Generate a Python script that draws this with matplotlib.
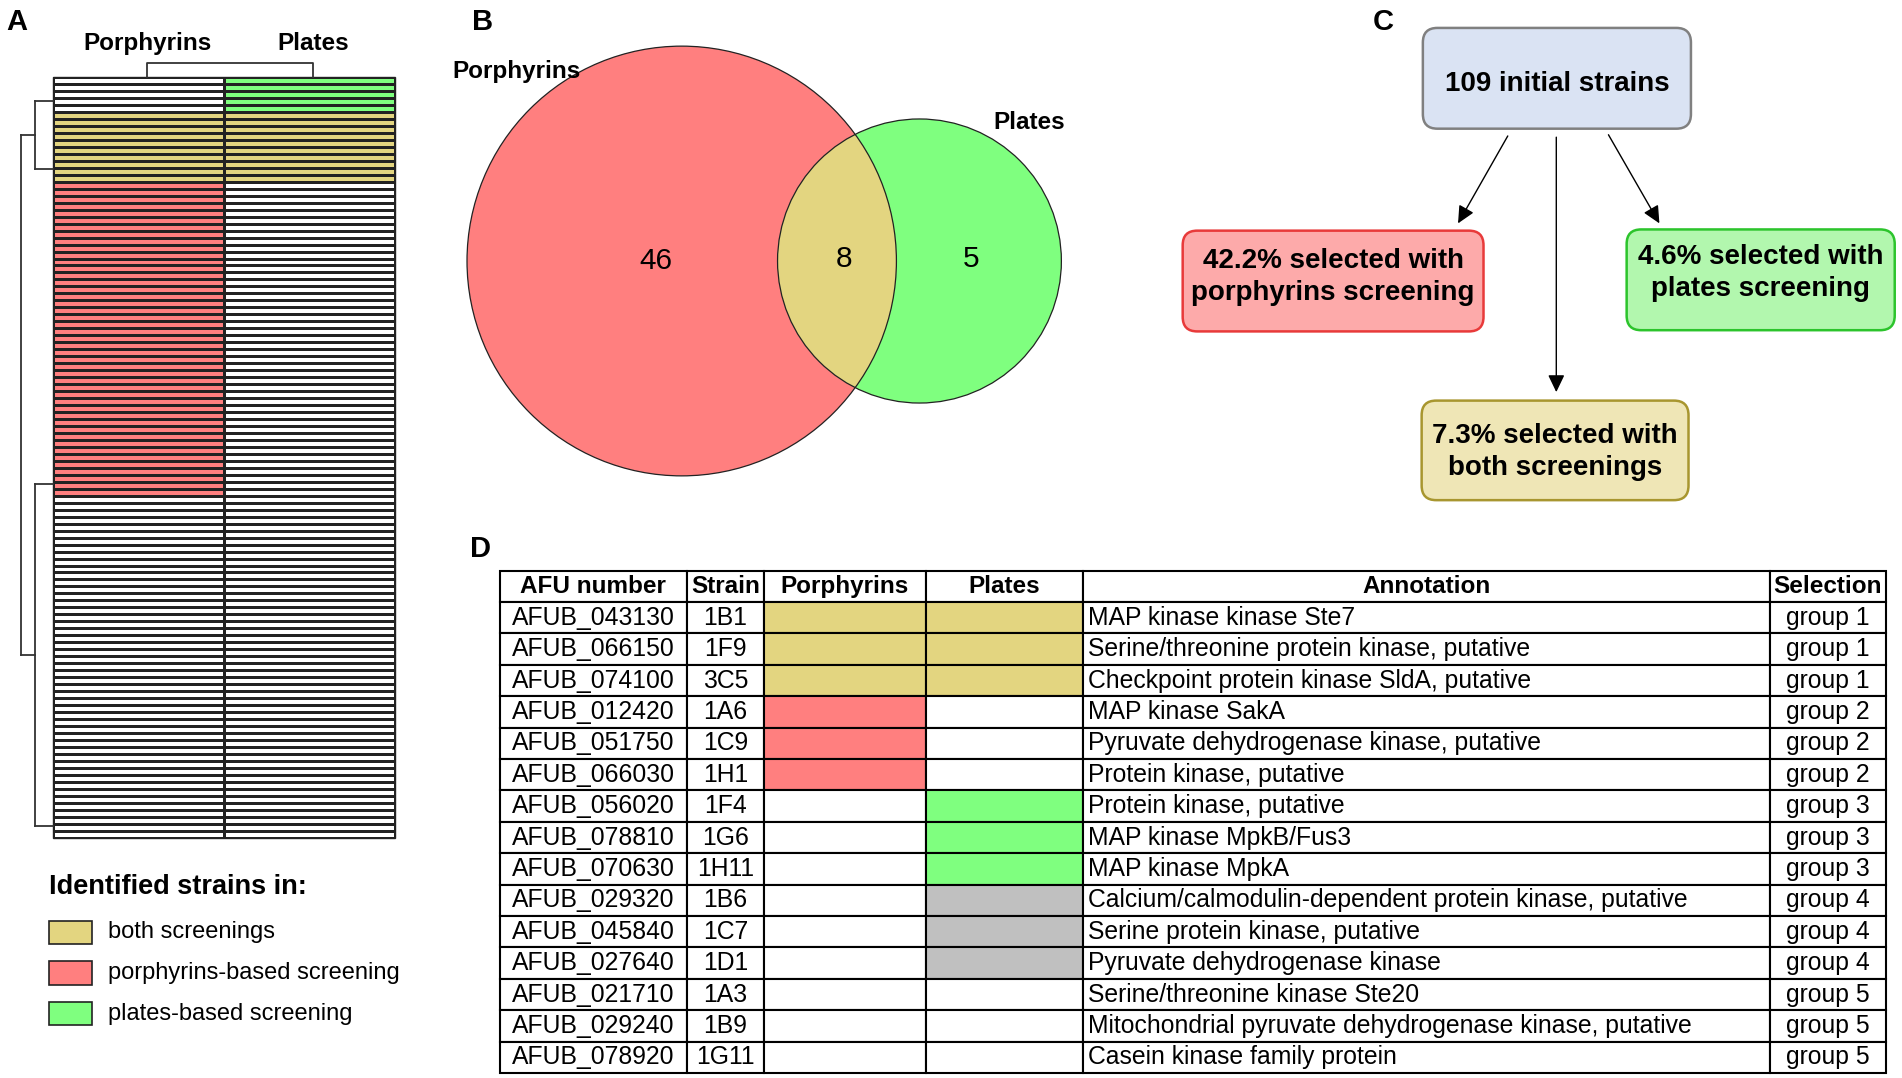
import matplotlib.pyplot as plt
from matplotlib.colors import ListedColormap
from matplotlib.patches import Rectangle, Circle, FancyBboxPatch
import numpy as np

plt.rcParams['font.family'] = ['Liberation Sans', 'DejaVu Sans']

RED = '#ff7f7f'
GREEN = '#7fff7f'
YELLOW = '#e3d580'
GRAY = '#c0c0c0'

# ---- data ----
# A: heatmap blocks, top to bottom (109 strains)
heat_groups = ['plates', 'both', 'porphyrins', 'none']
heat_counts = [5, 10, 45, 49]
heat_cols = ['Porphyrins', 'Plates']
# row dendrogram links: (row a, row b, height)
row_links = [(3.4, 13.2, 1.0), (58.3, 107.4, 1.0), (8.3, 82.85, 1.8)]
col_legs = [0.55, 1.52]
legend_title = 'Identified strains in:'
legend_labels = ['both screenings', 'porphyrins-based screening', 'plates-based screening']

# B: venn counts
venn_sets = ['Porphyrins', 'Plates']
venn_only_porph = 46
venn_both = 8
venn_only_plates = 5

# C: flow chart
n_initial = 109
pct_porph = 42.2
pct_both = 7.3
pct_plates = 4.6

# D: table
table_header = ['AFU number', 'Strain', 'Porphyrins', 'Plates', 'Annotation', 'Selection']
afu = ['AFUB_043130', 'AFUB_066150', 'AFUB_074100', 'AFUB_012420', 'AFUB_051750',
       'AFUB_066030', 'AFUB_056020', 'AFUB_078810', 'AFUB_070630', 'AFUB_029320',
       'AFUB_045840', 'AFUB_027640', 'AFUB_021710', 'AFUB_029240', 'AFUB_078920']
strains = ['1B1', '1F9', '3C5', '1A6', '1C9', '1H1', '1F4', '1G6', '1H11', '1B6',
           '1C7', '1D1', '1A3', '1B9', '1G11']
porph_hit = [1, 1, 1, 1, 1, 1, 0, 0, 0, 0, 0, 0, 0, 0, 0]
plates_hit = [1, 1, 1, 0, 0, 0, 1, 1, 1, 2, 2, 2, 0, 0, 0]  # 2 = grey
annotation = ['MAP kinase kinase Ste7',
              'Serine/threonine protein kinase, putative',
              'Checkpoint protein kinase SldA, putative',
              'MAP kinase SakA',
              'Pyruvate dehydrogenase kinase, putative',
              'Protein kinase, putative',
              'Protein kinase, putative',
              'MAP kinase MpkB/Fus3',
              'MAP kinase MpkA',
              'Calcium/calmodulin-dependent protein kinase, putative',
              'Serine protein kinase, putative',
              'Pyruvate dehydrogenase kinase',
              'Serine/threonine kinase Ste20',
              'Mitochondrial pyruvate dehydrogenase kinase, putative',
              'Casein kinase family protein']
group = [1, 1, 1, 2, 2, 2, 3, 3, 3, 4, 4, 4, 5, 5, 5]
col_widths = [154, 64, 133, 130, 566, 96]

# ---- figure ----
fig = plt.figure(figsize=(19.02, 10.78), dpi=100)
W, H = 1568.0, 888.0


def box_axes(x0, y0, x1, y1):
    ax = fig.add_axes([x0 / W, 1 - y1 / H, (x1 - x0) / W, (y1 - y0) / H])
    ax.set_axis_off()
    return ax


base = box_axes(0, 0, W, H)
base.set_xlim(0, W)
base.set_ylim(H, 0)

for letter, x, y in [('A', 14, 18), ('B', 398, 18), ('C', 1140, 18), ('D', 396, 452)]:
    base.text(x, y, letter, fontsize=21, fontweight='bold', ha='center', va='center')

# panel A heatmap
codes = {'none': (0, 0), 'porphyrins': (1, 0), 'plates': (0, 2), 'both': (3, 3)}
rows = np.repeat(heat_groups, heat_counts)
mat = np.array([codes[g] for g in rows])
nrow = len(rows)
cmap = ListedColormap(['white', RED, GREEN, YELLOW])
ax_h = box_axes(44, 63.5, 326, 690)
ax_h.pcolormesh(np.arange(3), np.arange(nrow + 1), mat, cmap=cmap, vmin=-0.5, vmax=3.5,
                edgecolors='#222222', linewidth=0.9)
ax_h.set_xlim(0, 2)
ax_h.set_ylim(nrow, 0)
ax_h.add_patch(Rectangle((0, 0), 2, nrow, fill=False, ec='#222222', lw=1.0, clip_on=False))

# row dendrogram
ax_d = box_axes(10, 63.5, 44, 690)
ax_d.set_ylim(nrow, 0)
ax_d.set_xlim(2.27, 0)
for a, b, h in row_links:
    ax_d.plot([h, h], [a, b], color='#333333', lw=1.3, clip_on=False)
    for p in (a, b):
        child = 0
        for aa, bb, hh in row_links:
            if abs((aa + bb) / 2 - p) < 0.3:
                child = hh
        ax_d.plot([child, h], [p, p], color='#333333', lw=1.3, clip_on=False)

# column dendrogram + labels
ax_c = box_axes(44, 52, 326, 63.5)
ax_c.set_xlim(0, 2)
ax_c.set_ylim(0, 1)
ax_c.plot([col_legs[0], col_legs[0], col_legs[1], col_legs[1]], [0, 1, 1, 0],
          color='#333333', lw=1.3, clip_on=False)
for leg, name in zip(col_legs, heat_cols):
    ax_c.text(leg, 2.4, name, fontsize=17.5, fontweight='bold', ha='center', va='center')

# legend
base.text(40, 731, legend_title, fontsize=19.5, fontweight='bold', ha='left', va='center')
for i, (lab, col) in enumerate(zip(legend_labels, [YELLOW, RED, GREEN])):
    y = 768 + i * 33.5
    base.add_patch(Rectangle((40, y - 9.5), 36, 19, fc=col, ec='#222222', lw=1.2))
    base.text(89, y, lab, fontsize=17, ha='left', va='center')

# panel B venn
c_red = Circle((562, 215), 177, fc=RED, ec='none')
c_green = Circle((758, 215), 117, fc=GREEN, ec='none')
base.add_patch(c_red)
base.add_patch(c_green)
lens = Circle((758, 215), 117, fc=YELLOW, ec='none')
base.add_patch(lens)
lens.set_clip_path(c_red)
base.add_patch(Circle((562, 215), 177, fill=False, ec='#222222', lw=0.9))
base.add_patch(Circle((758, 215), 117, fill=False, ec='#222222', lw=0.9))
base.text(541, 215, str(venn_only_porph), fontsize=21.5, ha='center', va='center')
base.text(696, 213, str(venn_both), fontsize=21.5, ha='center', va='center')
base.text(801, 213, str(venn_only_plates), fontsize=21.5, ha='center', va='center')
base.text(373, 59, venn_sets[0], fontsize=17.5, fontweight='bold', ha='left', va='center')
base.text(819, 101, venn_sets[1], fontsize=17.5, fontweight='bold', ha='left', va='center')

# panel C flow chart
boxes = [
    ((1173, 23, 1394, 106), '#dae3f3', '#808080', f'{n_initial} initial strains', 69),
    ((975, 190, 1223, 273), '#fdaaaa', '#e83a3a',
     f'{pct_porph}% selected with\nporphyrins screening', 228),
    ((1341, 189, 1562, 272), '#b2f7ae', '#2cc42c',
     f'{pct_plates}% selected with\nplates screening', 225),
    ((1172, 330, 1392, 412), '#efe6b6', '#a8962f',
     f'{pct_both}% selected with\nboth screenings', 372),
]
for (x0, y0, x1, y1), fc, ec, txt, ty in boxes:
    base.add_patch(FancyBboxPatch((x0, y0), x1 - x0, y1 - y0,
                                  boxstyle='round,pad=0,rounding_size=12',
                                  fc=fc, ec=ec, lw=1.8))
    base.text((x0 + x1) / 2, ty, txt, fontsize=20, fontweight='bold',
              ha='center', va='center', linespacing=1.3)

for start, end in [((1243, 112), (1202, 184)), ((1283, 113), (1283, 323)),
                   ((1326, 111), (1368, 184))]:
    base.annotate('', xy=end, xytext=start,
                  arrowprops=dict(arrowstyle='-|>,head_length=0.75,head_width=0.36',
                                  mutation_scale=14, color='black', lw=1.0,
                                  shrinkA=0, shrinkB=0))

# panel D table
ax_t = box_axes(412, 470, 1555, 884)
edges = np.concatenate([[0], np.cumsum(col_widths)])
nbody = len(afu)
ax_t.set_xlim(0, edges[-1])
ax_t.set_ylim(nbody + 1, 0)


def cell(r, c, fc='white'):
    ax_t.add_patch(Rectangle((edges[c], r), edges[c + 1] - edges[c], 1,
                             fc=fc, ec='black', lw=1.5, clip_on=False))


for c, name in enumerate(table_header):
    cell(0, c)
    ax_t.text((edges[c] + edges[c + 1]) / 2, 0.5, name, fontsize=17.5, fontweight='bold',
              ha='center', va='center')

for i in range(nbody):
    r = i + 1
    if porph_hit[i]:
        pfc = YELLOW if plates_hit[i] == 1 else RED
    else:
        pfc = 'white'
    if plates_hit[i] == 1:
        qfc = YELLOW if porph_hit[i] else GREEN
    elif plates_hit[i] == 2:
        qfc = GRAY
    else:
        qfc = 'white'
    fills = ['white', 'white', pfc, qfc, 'white', 'white']
    for c in range(len(table_header)):
        cell(r, c, fills[c])
    ax_t.text((edges[0] + edges[1]) / 2, r + 0.5, afu[i], fontsize=17.8, ha='center', va='center')
    ax_t.text((edges[1] + edges[2]) / 2, r + 0.5, strains[i], fontsize=17.8, ha='center', va='center')
    ax_t.text(edges[4] + 4, r + 0.5, annotation[i], fontsize=17.8, ha='left', va='center')
    ax_t.text((edges[5] + edges[6]) / 2, r + 0.5, f'group {group[i]}', fontsize=17.8,
              ha='center', va='center')

fig.savefig('out.png', dpi=100, facecolor='white')
